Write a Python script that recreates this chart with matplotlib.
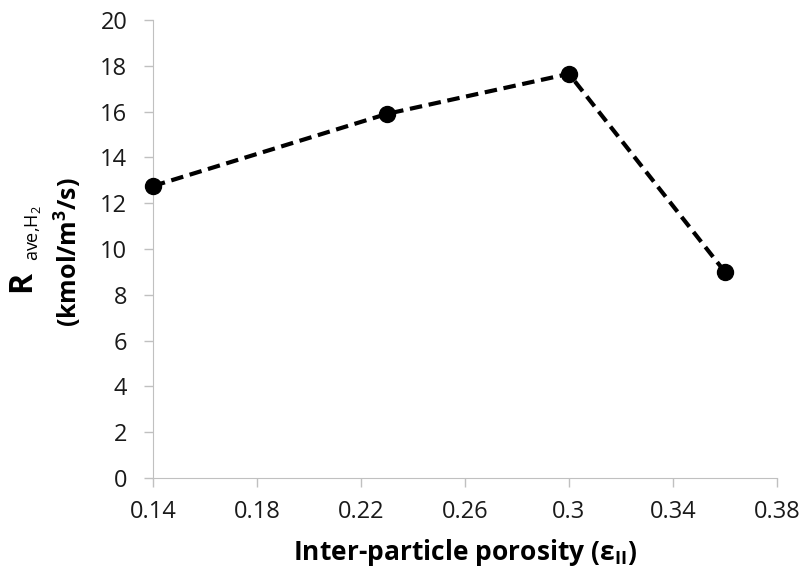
import matplotlib
matplotlib.use("Agg")
import matplotlib.pyplot as plt

# inter-particle porosity vs average H2 rate
porosity = [0.14, 0.23, 0.30, 0.36]
rate = [12.75, 15.9, 17.65, 9.0]
xticks = [0.14, 0.18, 0.22, 0.26, 0.30, 0.34, 0.38]
xtick_labels = ["0.14", "0.18", "0.22", "0.26", "0.3", "0.34", "0.38"]
yticks = list(range(0, 21, 2))

plt.rcParams["font.family"] = ["Open Sans", "DejaVu Sans"]

fig = plt.figure(figsize=(8.03, 5.8), dpi=100)
ax = fig.add_axes([0.1905, 0.1759, 0.777, 0.7896])

ax.plot(porosity, rate, "--", color="black", lw=3, dashes=(3, 1.6),
        marker="o", ms=11.5, mfc="black", mec="black", clip_on=False,
        zorder=5)

ax.set_xlim(0.14, 0.38)
ax.set_ylim(0, 20)
ax.set_xticks(xticks)
ax.set_xticklabels(xtick_labels)
ax.set_yticks(yticks)
ax.tick_params(labelsize=17, colors="#c0c0c0", labelcolor="#1a1a1a",
               length=6.5, width=1)
ax.tick_params(axis="x", pad=9)
ax.tick_params(axis="y", pad=12)

for side in ("top", "right"):
    ax.spines[side].set_visible(False)
for side in ("left", "bottom"):
    ax.spines[side].set_color("#c0c0c0")
ax.patch.set_visible(False)

ax.set_xlabel(r"Inter-particle porosity (ε$_{\mathregular{II}}$)",
              fontsize=19, fontweight="bold", labelpad=10)

# y label: big bold R, small subscript, units on a second line
fig.text(0.027, 0.515, "R", rotation=90,
         fontsize=23, fontweight="bold", ha="center", va="center")
fig.text(0.041, 0.598, r"ave,H$_{\mathregular{2}}$", rotation=90,
         fontsize=13, ha="center", va="center")
fig.text(0.085, 0.565, r"(kmol/m$^{\mathregular{3}}$/s)", rotation=90,
         fontsize=18, fontweight="bold", ha="center", va="center")

fig.savefig("out.png", dpi=100)
